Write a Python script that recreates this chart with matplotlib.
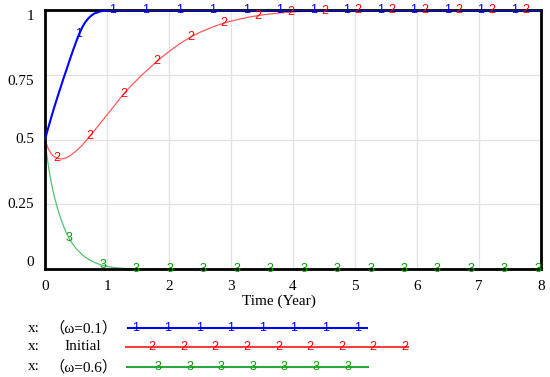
import matplotlib as mpl
mpl.use('Agg')
import matplotlib.pyplot as plt
import numpy as np

# values
t_blue = [0, 0.05, 0.1, 0.15, 0.2, 0.25, 0.3, 0.35, 0.4, 0.45, 0.5, 0.55, 0.6, 0.65, 0.7,
          0.75, 0.8, 0.9, 1.0, 1.1, 1.5, 2, 3, 4, 5, 6, 7, 8]
x_blue = [0.5, 0.543, 0.585, 0.625, 0.663, 0.7, 0.737, 0.772, 0.808, 0.843, 0.876, 0.907, 0.933, 0.953, 0.968,
          0.979, 0.987, 0.995, 0.998, 1.0, 1.0, 1.0, 1.0, 1.0, 1.0, 1.0, 1.0, 1.0]

t_red = [0, 0.05, 0.1, 0.15, 0.2, 0.25, 0.3, 0.35, 0.4, 0.5, 0.6, 0.73, 0.85, 1.0, 1.15, 1.27, 1.4, 1.55,
         1.7, 1.82, 2.0, 2.2, 2.35, 2.5, 2.7, 2.89, 3.1, 3.3, 3.5, 3.8, 4.1, 4.5, 5, 6, 7, 8]
x_red = [0.5, 0.465, 0.445, 0.433, 0.427, 0.425, 0.426, 0.43, 0.437, 0.455, 0.478, 0.515, 0.55, 0.595, 0.64,
         0.677, 0.71, 0.746, 0.779, 0.805, 0.84, 0.874, 0.896, 0.914, 0.934, 0.95, 0.963, 0.973, 0.981, 0.989,
         0.994, 0.998, 1.0, 1.0, 1.0, 1.0]

t_green = [0, 0.03, 0.06, 0.1, 0.15, 0.2, 0.25, 0.3, 0.35, 0.4, 0.5, 0.6, 0.7, 0.8, 0.9, 1.0, 1.1, 1.2,
           1.3, 1.5, 2, 3, 4, 5, 6, 7, 8]
x_green = [0.5, 0.44, 0.39, 0.335, 0.28, 0.235, 0.198, 0.165, 0.137, 0.113, 0.079, 0.055, 0.038, 0.025,
           0.016, 0.01, 0.006, 0.004, 0.002, 0.001, 0, 0, 0, 0, 0, 0, 0]

labels = ['（ω=0.1）', 'Initial', '（ω=0.6）']
marks = ['1', '2', '3']
line_cols = ['#0000ff', '#ff5a5a', '#55c070']
leg_cols = ['#0000ff', '#ff3c3c', '#2aa83c']
mark_cols = ['#0000ff', '#ff0000', '#00a000']
mark_start = [0.548, 0.19, 0.39]
mark_step = 0.54

serif = ['Liberation Serif', 'Noto Sans CJK SC']
sans = ['Liberation Sans', 'DejaVu Sans']

fig = plt.figure(figsize=(5.5, 3.77), dpi=100)
ax = fig.add_axes([45 / 550, 1 - 269 / 377, 496 / 550, 259 / 377])

series = [(t_blue, x_blue), (t_red, x_red), (t_green, x_green)]
widths = [1.5, 0.9, 0.9]
for i, (t, x) in enumerate(series):
    ax.plot(t, x, color=line_cols[i], lw=widths[i], zorder=3 if i == 0 else 2)
    mt = np.arange(mark_start[i], 8.0, mark_step)
    my = np.interp(mt, t, x)
    for a, b in zip(mt, my):
        ax.text(a, b, marks[i], color=mark_cols[i], fontsize=9, family=sans,
                ha='center', va='center', clip_on=False, zorder=4)

ax.set_xlim(0, 8)
ax.set_ylim(0, 1)
ax.set_xticks(range(9))
ax.set_yticks([0, 0.25, 0.5, 0.75, 1])
ax.set_yticklabels(['0', '0.25', '0.5', '0.75', '1'])
ax.grid(True, color='#e2e2e2', lw=0.9)
ax.tick_params(length=0, labelsize=11, pad=8)
for lab in ax.get_xticklabels() + ax.get_yticklabels():
    lab.set_family(serif)
vas = ['bottom', 'center', 'center', 'top', 'top']
for lab, va in zip(ax.get_yticklabels(), vas):
    lab.set_va(va)
for s in ax.spines.values():
    s.set_linewidth(2)
    s.set_color('black')

fig.text(279 / 550, 1 - 301 / 377, 'Time (Year)', family=serif, fontsize=11,
         ha='center', va='center')

# legend drawn in pixel coordinates
lg = fig.add_axes([0, 0, 1, 1])
lg.set_xlim(0, 550)
lg.set_ylim(377, 0)
lg.axis('off')
rows_y = [328, 347, 367]
line_x = [(128, 367), (126, 408), (127, 368)]
first_mark = [136, 152, 158]
for i in range(3):
    y = rows_y[i]
    lg.text(34, y, 'x:', family=serif, fontsize=11, ha='center', va='center')
    lg.text(83, y, labels[i], family=serif, fontsize=11, ha='center', va='center')
    lg.plot(line_x[i], [y, y], color=leg_cols[i], lw=1.5)
    for mx in np.arange(first_mark[i], line_x[i][1] + 1, 31.6):
        lg.text(mx, y, marks[i], color=mark_cols[i], fontsize=9, family=sans,
                ha='center', va='center')

fig.savefig('out.png', dpi=100)
